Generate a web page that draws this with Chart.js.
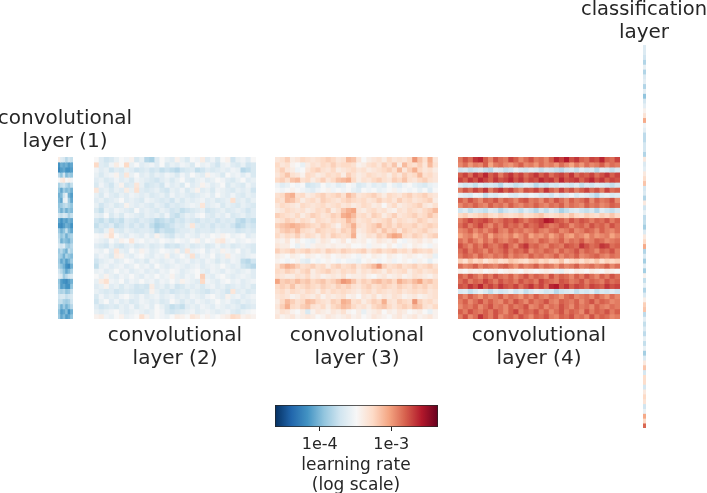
<!DOCTYPE html>
<html><head><meta charset="utf-8">
<script src="https://cdn.jsdelivr.net/npm/chart.js@4"></script>
<style>
html,body{margin:0;padding:0;background:#fff;overflow:hidden}
canvas{position:absolute;filter:blur(.35px)}
</style></head><body>
<script>
// All cell values: position along the colour bar, in percent (log learning rate).
const layer1 = [
[54,44,42,36,40,38],[20,26,24,26,22,24],[18,22,24,20,20,22],[36,30,40,28,32,30],
[50,54,56,50,52,48],[34,38,40,36,32,38],[30,24,32,28,30,26],[26,28,40,46,26,22],
[28,24,46,48,32,24],[30,32,36,38,34,30],[32,26,32,26,30,28],[40,38,42,40,34,38],
[24,20,24,22,26,24],[20,18,22,26,24,20],[32,26,30,38,28,24],[36,30,34,26,32,34],
[38,26,30,28,26,32],[42,40,44,34,32,36],[32,36,30,26,38,34],[34,32,26,34,30,28],
[32,24,28,22,26,32],[34,30,26,20,18,26],[40,36,30,24,28,34],[44,42,32,36,40,42],
[30,22,20,18,22,26],[32,22,24,20,20,30],[36,34,36,30,32,38],[40,42,42,38,40,42],
[38,38,34,32,34,40],[34,26,32,26,30,36],[30,22,24,28,20,26],[32,24,28,22,24,30]];
const layer2 = [
[50,44,40,42,46,50,48,52,42,46,36,34,44,50,46,44,52,46,42,50,48,54,44,48,42,50,52,40,46,48,44,50],
[60,44,42,48,54,50,60,46,50,44,46,48,44,50,42,46,44,48,46,42,50,46,48,44,40,46,48,44,42,46,40,42],
[48,44,46,40,44,42,46,44,40,42,44,40,42,38,40,38,36,40,42,44,38,40,44,42,44,46,44,48,46,36,38,42],
[46,42,46,48,52,44,56,46,50,44,46,42,46,44,48,46,42,48,44,50,46,44,52,48,46,42,50,46,48,44,48,42],
[44,46,42,44,48,44,46,42,48,46,44,42,40,44,46,42,46,50,44,42,46,48,44,46,50,48,44,42,46,50,44,46],
[42,48,44,40,46,52,42,44,56,46,40,42,44,40,48,44,46,42,50,44,46,52,48,44,46,50,42,46,44,42,48,44],
[56,44,46,42,46,44,54,46,58,44,42,44,46,42,40,46,44,48,42,46,52,44,46,42,48,46,44,42,46,44,46,40],
[46,42,48,44,42,46,44,48,46,44,46,42,44,46,42,48,44,46,44,42,44,46,48,44,50,46,44,48,44,42,46,44],
[44,46,42,44,46,50,44,46,44,42,48,46,44,42,44,40,46,42,46,44,46,48,44,46,42,44,46,58,44,46,42,46],
[46,40,44,46,42,44,52,46,44,46,44,42,46,44,40,44,42,44,46,48,46,56,44,46,48,42,46,44,42,46,44,42],
[42,38,46,44,48,46,44,42,50,44,46,44,42,46,44,40,42,38,40,42,44,46,40,42,44,46,42,44,46,44,40,44],
[46,44,50,42,46,42,48,46,44,42,46,44,46,42,48,40,38,42,46,44,48,50,44,42,46,44,48,42,44,46,42,44],
[40,38,42,38,40,38,44,42,40,44,42,40,36,38,40,38,42,40,44,42,40,44,42,44,40,44,42,44,38,36,40,38],
[38,42,40,44,38,40,44,40,44,40,44,38,34,36,38,40,44,42,46,56,44,42,44,40,44,42,44,40,36,38,42,40],
[42,40,46,56,44,42,46,44,42,44,44,42,36,40,38,38,42,44,44,46,42,44,44,42,46,44,44,44,40,42,44,42],
[50,48,52,58,50,46,44,48,46,44,48,44,52,46,42,40,46,44,48,46,44,48,46,50,48,52,50,46,48,50,44,46],
[48,46,44,50,46,52,50,56,48,50,46,48,46,50,48,46,50,48,46,50,52,46,50,48,54,56,48,50,46,48,50,48],
[44,42,40,46,42,40,44,46,42,44,46,42,44,46,40,42,40,44,46,42,44,46,42,44,48,44,46,42,44,46,44,42],
[48,46,50,44,56,46,44,50,46,52,48,44,46,50,48,46,52,44,56,46,48,50,44,48,46,52,48,46,50,44,46,42],
[44,48,46,42,54,52,46,44,48,50,46,44,48,46,52,44,46,50,46,58,44,48,46,50,44,46,54,48,46,44,46,48],
[40,44,46,48,44,46,50,48,44,46,42,48,46,44,46,48,44,46,48,44,46,44,48,46,42,46,44,48,46,38,36,40],
[38,46,48,44,46,48,44,46,50,46,48,44,50,46,44,46,48,46,44,46,48,44,46,48,46,50,46,44,46,40,38,36],
[46,48,44,46,50,46,48,44,46,48,44,46,44,48,46,50,48,44,46,48,50,46,44,48,46,44,48,46,44,46,48,44],
[50,46,52,46,44,48,46,50,46,44,48,46,50,46,48,52,46,44,48,46,50,62,46,44,48,50,46,44,46,48,46,44],
[46,54,58,48,46,50,44,48,46,50,46,48,44,48,46,50,46,52,48,46,44,60,48,46,44,48,50,46,48,44,46,48],
[44,46,52,44,46,42,46,44,40,42,40,54,44,46,42,46,40,42,46,44,46,42,46,48,44,46,42,44,46,44,46,42],
[46,44,42,44,40,42,44,42,40,40,42,52,46,42,44,40,42,44,42,46,44,42,40,44,46,44,40,56,44,46,42,44],
[42,48,44,46,44,48,50,46,44,48,44,46,48,44,46,48,44,46,44,48,46,44,48,50,46,44,52,46,48,44,46,48],
[40,46,50,44,48,44,46,42,44,48,46,44,46,42,44,50,46,42,46,44,48,46,44,46,50,46,48,44,42,46,44,46],
[44,40,42,44,42,46,44,48,42,46,48,44,50,46,42,38,40,38,44,46,44,48,46,44,48,46,44,46,44,40,42,44],
[46,44,46,48,50,46,44,46,48,46,44,46,50,48,42,40,42,44,46,48,44,46,48,46,44,46,48,44,42,46,48,50],
[52,54,48,46,50,52,46,48,50,58,52,46,50,48,46,50,54,52,50,56,54,50,52,48,50,52,54,60,58,52,54,52]];
const layer3 = [
[56,58,62,54,56,60,58,56,58,60,62,60,56,58,66,64,56,50,54,56,58,54,60,56,58,56,60,72,64,58,68,56],
[60,56,58,52,50,46,54,58,56,60,58,62,58,60,60,58,52,54,58,60,56,62,58,64,54,66,60,58,62,56,66,58],
[58,62,56,54,48,50,56,60,62,58,56,60,54,56,58,60,56,58,54,56,58,60,62,58,66,56,62,68,60,56,58,54],
[56,60,64,58,56,52,60,58,54,56,60,58,60,54,62,58,54,56,60,58,56,58,54,60,56,62,58,60,66,58,60,56],
[60,62,58,64,66,58,60,54,58,62,56,60,64,66,68,60,54,58,56,60,62,58,56,62,60,64,58,56,60,62,58,56],
[48,44,46,50,48,50,40,42,44,50,46,48,44,46,50,48,42,44,48,44,46,44,50,46,44,48,50,46,44,42,46,48],
[50,48,50,52,50,48,46,44,48,50,52,48,50,48,50,46,44,50,48,50,46,48,50,52,48,50,48,50,46,50,44,50],
[58,60,66,68,58,60,54,56,60,62,58,60,62,58,66,62,56,58,60,62,58,54,60,58,56,60,62,58,60,62,58,56],
[60,58,66,64,60,54,58,60,56,62,60,58,56,60,62,60,58,60,56,58,62,58,60,56,62,58,60,56,58,60,62,54],
[56,60,58,56,54,60,58,56,58,60,56,58,60,56,58,54,56,60,58,54,56,50,56,60,54,56,58,60,62,56,54,58],
[54,56,60,58,56,58,54,56,60,58,62,54,58,64,68,70,56,54,58,60,56,58,54,52,58,56,60,58,56,60,62,66],
[62,60,58,56,60,54,58,62,60,56,58,62,60,68,70,66,58,60,56,62,60,54,58,62,56,58,60,62,58,60,64,60],
[56,58,62,60,56,60,58,54,60,58,56,60,58,60,66,62,56,58,60,56,58,60,62,56,60,58,56,58,62,60,56,58],
[62,64,66,68,66,64,62,60,58,62,60,56,52,60,62,68,58,56,60,62,66,60,62,58,62,60,60,62,58,60,62,60],
[58,62,64,62,66,60,58,56,62,60,58,60,56,62,60,66,54,56,60,62,58,64,60,62,56,62,60,58,60,62,58,56],
[60,56,60,58,62,56,60,58,54,60,56,62,60,58,60,68,52,54,58,56,62,60,66,70,68,60,58,62,60,56,60,62],
[54,52,56,50,54,50,48,46,52,56,54,50,52,56,50,54,52,54,50,52,56,54,52,56,50,48,52,54,56,52,54,50],
[56,54,54,50,46,52,48,52,54,54,52,54,52,52,54,50,50,52,48,52,52,50,54,50,48,52,50,54,52,50,48,52],
[62,58,60,62,58,60,62,58,60,56,62,60,58,62,60,58,60,62,56,60,62,58,60,62,58,60,56,62,60,58,60,54],
[54,52,50,54,52,50,54,52,50,52,54,50,52,54,52,50,48,52,50,54,52,50,54,52,50,52,54,52,50,52,54,46],
[52,50,48,50,52,46,44,50,48,50,52,50,48,50,48,48,46,50,52,50,48,50,52,48,50,52,50,48,52,50,46,50],
[58,64,68,66,62,58,60,62,58,60,54,60,62,58,60,62,56,60,62,66,72,62,58,60,62,58,60,62,58,60,62,58],
[60,58,62,60,56,60,62,54,58,60,62,58,56,60,58,60,54,58,56,60,58,54,60,56,58,60,54,58,60,56,58,60],
[58,56,54,54,58,56,60,54,56,52,54,56,54,58,52,54,54,56,52,50,54,56,52,54,56,52,54,58,56,54,52,56],
[70,62,64,62,66,62,64,60,62,64,60,62,66,72,70,64,58,62,60,64,66,62,64,60,68,64,62,66,70,62,64,60],
[60,62,60,64,58,60,62,60,58,62,60,58,62,60,62,58,56,60,62,58,60,62,60,58,62,60,58,62,60,62,58,60],
[58,60,56,60,58,56,60,58,54,60,56,60,58,60,58,56,54,58,60,56,60,58,56,58,60,56,58,60,58,60,56,58],
[56,58,56,52,54,58,56,54,58,52,56,54,56,58,52,54,50,56,54,58,52,56,54,58,56,52,54,56,52,54,56,58],
[54,60,66,62,58,60,66,64,60,58,56,62,60,68,66,58,60,54,58,62,60,68,58,56,62,60,58,72,62,58,60,56],
[56,62,68,60,58,62,64,58,56,60,54,60,62,66,64,60,56,58,54,60,62,64,60,56,60,62,60,66,64,58,56,60],
[54,58,56,52,50,54,42,52,56,54,52,56,54,58,52,50,54,46,52,54,56,50,54,52,56,54,50,52,54,50,46,52],
[56,52,54,56,52,54,56,54,50,52,56,54,52,54,56,52,54,50,52,56,54,52,50,54,56,52,54,56,52,54,56,52]];
const layer4 = [
[76,82,78,86,88,80,74,82,78,76,84,80,74,78,82,76,78,74,80,88,84,90,82,86,80,78,84,82,88,80,78,84],
[74,78,72,76,74,80,70,76,78,74,72,76,80,74,76,72,78,74,76,72,78,74,70,76,72,78,74,76,80,74,78,76],
[40,42,38,40,42,38,36,44,42,38,40,46,42,40,44,42,38,42,40,38,36,40,42,38,44,40,42,36,44,42,38,42],
[80,84,78,86,82,88,80,84,76,82,86,80,84,78,82,86,80,84,78,82,84,80,86,78,82,80,84,78,82,86,80,84],
[84,80,86,82,88,84,80,86,82,84,88,82,86,80,84,82,88,84,86,80,88,82,84,86,80,84,88,82,86,80,84,82],
[44,40,42,38,44,40,42,40,36,44,42,38,40,44,42,36,40,38,42,40,44,42,40,44,38,42,40,44,42,40,38,42],
[76,82,78,84,80,86,76,82,86,80,84,78,74,82,80,84,78,86,80,76,84,78,82,76,80,84,78,82,76,84,78,80],
[46,44,42,48,46,38,44,42,46,48,44,42,46,44,48,46,42,44,40,46,42,44,48,42,46,44,40,36,44,46,42,44],
[80,76,82,78,74,80,78,82,76,80,78,74,80,82,76,78,74,80,76,82,78,74,80,76,78,82,74,80,76,78,82,74],
[74,78,76,80,76,74,80,76,78,74,80,76,74,78,76,80,76,74,78,76,80,74,78,76,74,80,76,78,74,76,80,78],
[40,44,38,42,40,38,44,42,36,40,44,42,38,44,40,36,42,38,44,40,34,38,42,44,40,38,42,36,44,40,38,42],
[60,62,58,60,62,64,60,58,62,60,58,60,62,58,60,62,64,60,58,60,62,60,64,60,58,62,60,58,62,60,64,60],
[76,80,84,80,82,84,80,76,78,82,80,84,80,76,80,82,84,90,88,82,80,76,82,78,82,80,76,80,78,82,76,80],
[78,82,76,80,84,78,74,80,76,82,78,80,76,82,78,80,84,80,76,78,82,80,74,78,80,76,82,78,80,76,82,78],
[74,76,80,74,78,74,78,82,76,74,80,76,78,74,76,80,76,74,78,80,74,76,80,74,76,80,78,74,80,76,74,78],
[70,74,76,70,74,78,70,76,74,72,76,70,74,78,70,74,72,76,70,74,78,72,70,76,74,70,76,72,74,76,70,74],
[78,74,80,76,72,78,74,80,76,74,78,80,74,78,76,74,80,78,74,76,80,74,78,76,80,74,76,80,78,74,76,78],
[82,78,74,80,76,82,78,76,80,84,78,74,82,86,78,80,76,74,80,78,76,82,80,78,86,82,78,80,86,84,78,80],
[78,82,76,80,78,74,80,76,78,82,76,80,78,82,74,78,76,80,78,74,80,76,78,82,76,80,78,74,80,78,82,76],
[76,80,78,74,80,76,74,78,76,80,74,78,76,74,80,76,78,74,76,80,74,78,76,80,74,76,78,80,76,74,78,76],
[62,58,64,60,62,56,60,62,58,60,64,62,60,58,62,64,60,62,58,60,64,56,60,62,58,62,60,64,58,62,60,62],
[78,74,76,80,74,78,76,74,78,80,76,72,78,74,76,80,74,78,76,72,78,74,76,80,74,76,78,74,76,80,74,78],
[52,50,54,52,54,50,52,54,50,52,54,52,50,54,52,50,52,54,52,48,46,52,50,54,52,50,54,52,50,54,52,50],
[80,76,82,78,74,80,76,82,78,76,80,74,78,82,76,80,78,74,82,76,80,78,74,80,76,82,78,74,80,76,82,78],
[78,82,76,80,78,84,80,76,82,78,80,76,82,78,80,76,84,80,78,76,82,80,76,78,82,76,80,78,76,82,78,80],
[82,80,86,82,88,80,84,80,86,82,80,84,78,82,86,80,84,78,88,90,82,86,80,84,82,78,84,82,80,86,82,84],
[42,44,38,42,46,42,38,44,40,42,46,40,44,38,42,46,44,40,42,36,40,42,44,38,42,40,44,38,42,40,44,40],
[78,74,80,76,72,78,74,76,80,74,78,76,72,78,74,80,76,74,78,76,72,78,80,74,76,78,74,80,76,72,78,74],
[76,80,74,78,82,76,80,76,74,80,76,82,78,74,80,76,78,82,76,74,80,78,76,80,74,78,82,76,80,78,74,76],
[74,78,76,80,74,78,82,76,78,74,80,76,78,82,74,76,80,74,78,76,82,78,74,80,76,78,74,80,76,74,78,76],
[80,76,82,78,76,80,76,82,78,74,80,84,76,80,78,82,76,80,74,78,82,76,80,78,74,82,76,80,78,82,76,80],
[76,82,74,78,86,80,76,82,74,78,80,76,82,78,74,80,78,82,76,74,80,78,82,76,78,74,82,76,80,78,74,76]];
const classificationLayer = [
43,43,40,35,46,35,43,45,35,45,30,41,45,52,57,69,48,45,37,37,41,41,35,55,43,45,55,59,
64,41,43,35,55,40,46,37,38,33,43,55,60,69,35,43,33,45,33,52,38,46,35,43,53,62,
64,37,45,38,43,37,46,38,46,33,43,55,64,41,59,59,41,55,60,57,40,46,69,60,79];
const colourStops = ["#053061","#2166ac","#4393c3","#92c5de","#d1e5f0","#f7f7f7","#fddbc7","#f4a582","#d6604d","#b2182b","#67001f"];
const colourbarTicks = [1e-4, 1e-3];
const colourbarRange = [Math.pow(10,-4.627), Math.pow(10,-2.345)];
const fontFamily = "'DejaVu Sans'";
const textColour = "#262626";

function hexRgb(h){return [1,3,5].map(i=>parseInt(h.slice(i,i+2),16));}
function colourOf(p){
  const t=Math.max(0,Math.min(0.9999,p/100))*10, i=Math.floor(t), f=t-i;
  const a=hexRgb(colourStops[i]), b=hexRgb(colourStops[i+1]);
  return "rgb("+a.map((v,k)=>Math.round(v+(b[k]-v)*f)).join(",")+")";
}
function addCanvas(left,top,w,h){
  const c=document.createElement("canvas");
  c.width=w;c.height=h;
  c.style.left=left+"px";c.style.top=top+"px";c.style.width=w+"px";c.style.height=h+"px";
  document.body.appendChild(c);return c;
}
function heat(rows,x0,x1,y0,y1){
  const c=addCanvas(x0,y0,x1-x0,y1-y0);
  new Chart(c,{type:"bar",
    data:{labels:rows[0].map((_,i)=>i),
      datasets:rows.map(r=>({data:r.map(()=>1),backgroundColor:r.map(colourOf),borderWidth:0,barPercentage:1,categoryPercentage:1}))},
    options:{responsive:false,animation:false,events:[],
      scales:{x:{display:false,stacked:true},y:{display:false,stacked:true,reverse:true,min:0,max:rows.length}},
      plugins:{legend:{display:false},tooltip:{enabled:false},title:{display:false}}}});
}
function caption(lines,cx,top,w,size){
  const h=Math.ceil(lines.length*size*1.15)+8;
  const c=addCanvas(cx-w/2,top,w,h);
  new Chart(c,{type:"bar",data:{labels:[],datasets:[]},
    options:{responsive:false,animation:false,events:[],
      scales:{x:{display:false},y:{display:false}},
      plugins:{legend:{display:false},tooltip:{enabled:false},
        title:{display:true,position:"top",text:lines,color:textColour,padding:0,
          font:{family:fontFamily,size:size,weight:"normal",lineHeight:1.15}}}}});
}
heat(layer1,58,73,157,319);
heat(layer2,94,256,157,319);
heat(layer3,275,438,157,319);
heat(layer4,458,620,157,319);
heat(classificationLayer.map(v=>[v]),643,646,45,428);
caption(["convolutional","layer (1)"],65,107,140,20);
caption(["convolutional","layer (2)"],174.5,324,150,20);
caption(["convolutional","layer (3)"],356.5,324,150,20);
caption(["convolutional","layer (4)"],538.5,324,150,20);
caption(["classification","layer"],644,-2,126,20);
caption(["learning rate","(log scale)"],356,456,130,17);

// colour bar
const cbar=addCanvas(265,403,182,46);
new Chart(cbar,{type:"bar",
  data:{labels:["lr"],datasets:[{data:[colourbarRange],
    backgroundColor(ctx){
      const a=ctx.chart.chartArea; if(!a) return "#fff";
      const g=ctx.chart.ctx.createLinearGradient(a.left,0,a.right,0);
      colourStops.forEach((s,i)=>g.addColorStop(i/10,s));
      return g;},
    borderColor:textColour,borderWidth:1,borderSkipped:false,barPercentage:1,categoryPercentage:1}]},
  options:{indexAxis:"y",responsive:false,animation:false,events:[],
    layout:{padding:{left:10,right:9,top:2,bottom:0}},
    scales:{
      y:{display:false},
      x:{type:"logarithmic",min:colourbarRange[0],max:colourbarRange[1],
        afterBuildTicks(ax){ax.ticks=colourbarTicks.map(v=>({value:v}));},
        grid:{drawOnChartArea:false,drawTicks:true,tickLength:4,color:textColour,tickWidth:1},
        border:{display:false},
        ticks:{color:textColour,maxRotation:0,autoSkip:false,padding:4,font:{family:fontFamily,size:16},
          callback(v){return colourbarTicks.includes(v)?v.toExponential(0):"";}}
      }},
    plugins:{legend:{display:false},tooltip:{enabled:false},title:{display:false}}}});
</script></body></html>
